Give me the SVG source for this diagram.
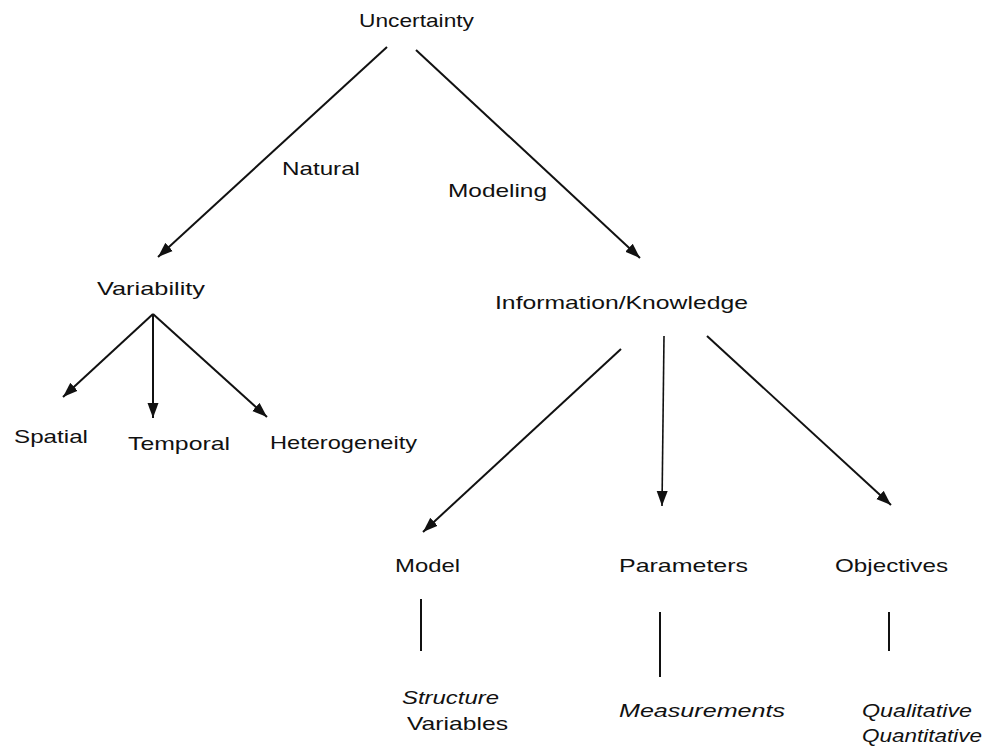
<svg xmlns="http://www.w3.org/2000/svg" width="998" height="746" viewBox="0 0 998 746">
<style>
text{font-family:"Liberation Sans","DejaVu Sans",Arial,sans-serif;font-size:19px;fill:#111}
.it{font-style:italic}
.c{stroke:#111;stroke-width:2;fill:none}
.a{marker-end:url(#ah)}
</style>
<defs>
<marker id="ah" markerUnits="userSpaceOnUse" markerWidth="16" markerHeight="12" refX="15" refY="5.5" orient="auto" viewBox="0 0 16 11">
<path d="M0,0 L15,5.5 L0,11 Z" fill="#111"/>
</marker>
</defs>
<rect width="998" height="746" fill="#fff"/>
<g id="connectors">
<line class="c a" x1="387" y1="47" x2="158" y2="257"/>
<line class="c a" x1="416" y1="50" x2="640" y2="258"/>
<line class="c a" x1="153" y1="314" x2="63" y2="397"/>
<line class="c a" x1="153" y1="314" x2="153" y2="418"/>
<line class="c a" x1="153" y1="314" x2="267" y2="417"/>
<line class="c a" x1="621" y1="349" x2="423" y2="532"/>
<line class="c a" x1="664" y1="336" x2="662" y2="506" style="stroke-width:1.6"/>
<line class="c a" x1="707" y1="336" x2="891" y2="505"/>
<line class="c" x1="421" y1="599" x2="421" y2="651"/>
<line class="c" x1="660" y1="612" x2="660" y2="677"/>
<line class="c" x1="889" y1="612" x2="889" y2="651"/>
</g>
<g id="uncertainty"><text x="359" y="27" textLength="115" lengthAdjust="spacingAndGlyphs">Uncertainty</text></g>
<g id="label-natural"><text x="282" y="175" textLength="78" lengthAdjust="spacingAndGlyphs">Natural</text></g>
<g id="label-modeling"><text x="448" y="197" textLength="99" lengthAdjust="spacingAndGlyphs">Modeling</text></g>
<g id="variability"><text x="97" y="295" textLength="108" lengthAdjust="spacingAndGlyphs">Variability</text></g>
<g id="information"><text x="495" y="309" textLength="253" lengthAdjust="spacingAndGlyphs">Information/Knowledge</text></g>
<g id="spatial"><text x="14" y="443" textLength="74" lengthAdjust="spacingAndGlyphs">Spatial</text></g>
<g id="temporal"><text x="128" y="450" textLength="102" lengthAdjust="spacingAndGlyphs">Temporal</text></g>
<g id="heterogeneity"><text x="270" y="449" textLength="147" lengthAdjust="spacingAndGlyphs">Heterogeneity</text></g>
<g id="model"><text x="395" y="572" textLength="65" lengthAdjust="spacingAndGlyphs">Model</text></g>
<g id="parameters"><text x="619" y="572" textLength="129" lengthAdjust="spacingAndGlyphs">Parameters</text></g>
<g id="objectives"><text x="835" y="572" textLength="113" lengthAdjust="spacingAndGlyphs">Objectives</text></g>
<g id="model-detail">
<text class="it" x="402" y="704" textLength="97" lengthAdjust="spacingAndGlyphs">Structure</text>
<text x="407" y="730" textLength="101" lengthAdjust="spacingAndGlyphs">Variables</text>
</g>
<g id="parameters-detail"><text class="it" x="619" y="717" textLength="166" lengthAdjust="spacingAndGlyphs">Measurements</text></g>
<g id="objectives-detail">
<text class="it" x="862" y="717" textLength="110" lengthAdjust="spacingAndGlyphs">Qualitative</text>
<text class="it" x="862" y="742" textLength="120" lengthAdjust="spacingAndGlyphs">Quantitative</text>
</g>
</svg>
